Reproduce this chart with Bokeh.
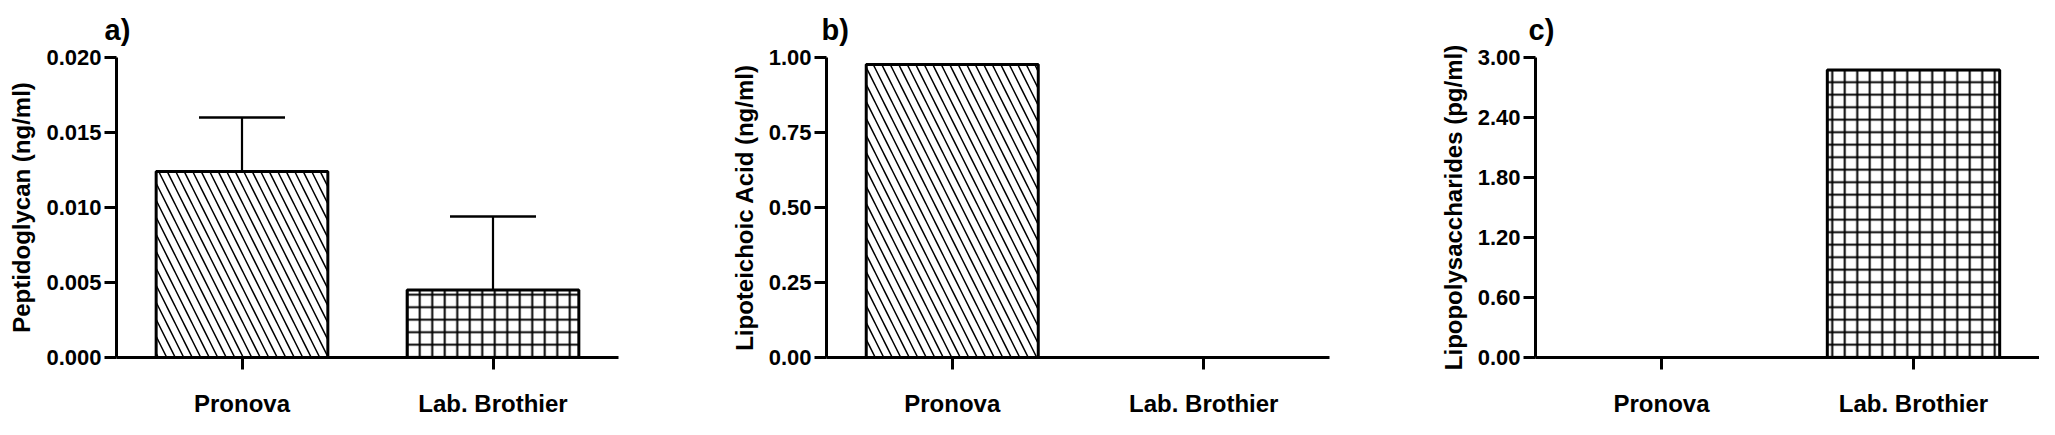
from bokeh.plotting import figure
from bokeh.layouts import row
from bokeh.models import (FactorRange, Range1d, FixedTicker, NumeralTickFormatter,
                          Whisker, TeeHead, ColumnDataSource)
from bokeh.core.properties import field
from bokeh.embed import file_html
from bokeh.resources import INLINE

# ---------------- data ----------------
categories = ["Pronova", "Lab. Brothier"]

pg_values = [0.0124, 0.0045]      # Peptidoglycan (ng/ml)
pg_errors = [0.0036, 0.0049]      # upper SD
lta_values = [0.977, 0.0]         # Lipoteichoic acid (ng/ml)
lps_values = [0.0, 2.875]         # Lipopolysaccharides (pg/ml)

pg_ticks = [0.0, 0.005, 0.010, 0.015, 0.020]
lta_ticks = [0.0, 0.25, 0.50, 0.75, 1.00]
lps_ticks = [0.0, 0.60, 1.20, 1.80, 2.40, 3.00]

panel_titles = ["a)", "b)", "c)"]
y_labels = ["Peptidoglycan (ng/ml)", "Lipoteichoic Acid (ng/ml)",
            "Lipopolysaccharides (pg/ml)"]

# ---------------- style ----------------
FONT = "Liberation Sans"
HATCH = {"Pronova": "\\", "Lab. Brothier": "+"}
HATCH_SCALE = {"Pronova": 17, "Lab. Brothier": 12.5}
HATCH_WEIGHT = {"Pronova": 1.5, "Lab. Brothier": 2.0}
HEIGHT = 419
TOP = 56
BOTTOM = 59


def make_panel(values, ymax, ticks, fmt, ylabel, title, width, left, right,
               title_dx, errors=None):
    p = figure(x_range=FactorRange(*categories), y_range=Range1d(0, ymax),
               width=width, height=HEIGHT, output_backend="svg",
               toolbar_location=None, min_border_left=left,
               min_border_right=right, min_border_top=TOP,
               min_border_bottom=BOTTOM, title=title)
    p.outline_line_color = None
    p.xgrid.grid_line_color = None
    p.ygrid.grid_line_color = None
    p.background_fill_color = "white"

    p.title.align = "left"
    p.title.offset = title_dx
    p.title.standoff = 23
    p.title.text_font = FONT
    p.title.text_font_style = "bold"
    p.title.text_font_size = "29px"
    p.title.text_color = "black"

    src = ColumnDataSource(dict(
        x=categories, top=values,
        hatch=[HATCH[c] for c in categories],
        scale=[HATCH_SCALE[c] for c in categories],
        weight=[HATCH_WEIGHT[c] for c in categories]))
    p.vbar(x="x", top="top", width=0.684, source=src, fill_color="white",
           line_color="black", line_width=3, hatch_pattern=field("hatch"),
           hatch_scale=field("scale"), hatch_weight=field("weight"),
           hatch_color="black")

    if errors is not None:
        esrc = ColumnDataSource(dict(
            x=categories, lower=values,
            upper=[v + e for v, e in zip(values, errors)]))
        w = Whisker(base="x", lower="lower", upper="upper", source=esrc,
                    line_width=2.2, line_color="black", lower_head=None,
                    upper_head=TeeHead(size=86, line_width=2.5,
                                       line_color="black"))
        w.level = "overlay"
        p.add_layout(w)

    for ax in (p.xaxis, p.yaxis):
        ax.axis_line_width = 3
        ax.axis_line_color = "black"
        ax.major_tick_line_width = 3
        ax.major_tick_line_color = "black"
        ax.major_tick_out = 12
        ax.major_tick_in = 0
        ax.minor_tick_line_color = None
        ax.major_label_text_font = FONT
        ax.major_label_text_font_style = "bold"
        ax.major_label_text_color = "black"

    p.xaxis.major_label_text_font_size = "24px"
    p.xaxis.major_label_standoff = 20
    p.yaxis.major_label_text_font_size = "22px"
    p.yaxis.major_label_standoff = 3
    p.yaxis.ticker = FixedTicker(ticks=ticks)
    p.yaxis.formatter = NumeralTickFormatter(format=fmt)
    p.yaxis.axis_label = ylabel
    p.yaxis.axis_label_text_font = FONT
    p.yaxis.axis_label_text_font_style = "bold"
    p.yaxis.axis_label_text_font_size = "24px"
    p.yaxis.axis_label_text_color = "black"
    p.yaxis.axis_label_standoff = 8
    return p


p1 = make_panel(pg_values, 0.020, pg_ticks, "0.000", y_labels[0],
                panel_titles[0], 700, 116, 82, -12, errors=pg_errors)
p2 = make_panel(lta_values, 1.0, lta_ticks, "0.00", y_labels[1],
                panel_titles[1], 700, 126, 71, -5)
p3 = make_panel(lps_values, 3.0, lps_ticks, "0.00", y_labels[2],
                panel_titles[2], 639, 135, 0, -7)

layout = row(p1, p2, p3)

with open("out.html", "w") as f:
    f.write(file_html(layout, INLINE))
